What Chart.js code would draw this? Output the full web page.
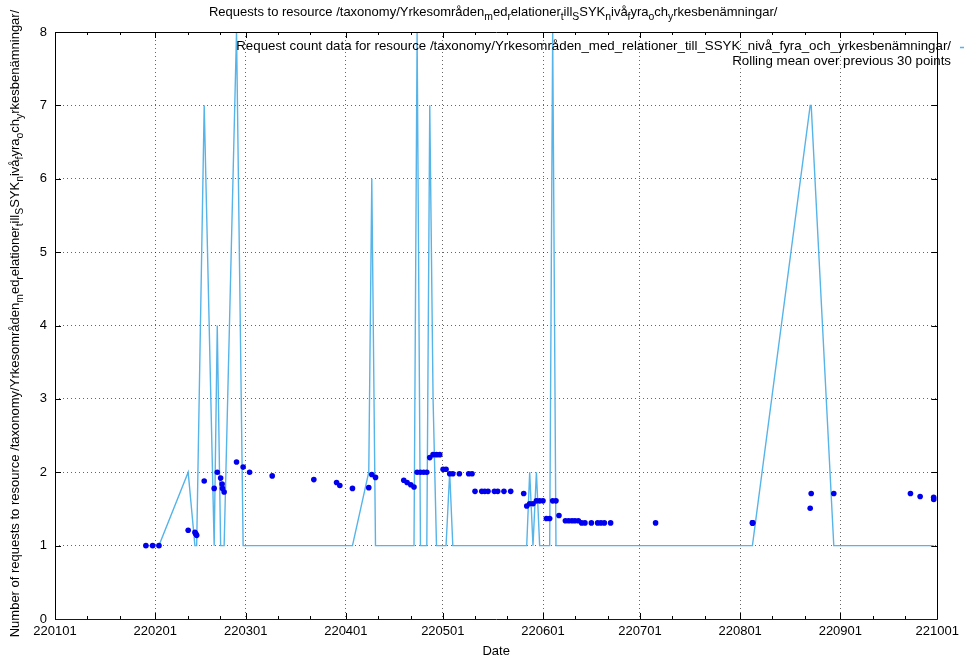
<!DOCTYPE html>
<html><head><meta charset="utf-8">
<script src="https://cdn.jsdelivr.net/npm/chart.js@4.4.0/dist/chart.umd.min.js"></script>
<style>html,body{margin:0;padding:0;background:#fff;}#wrap{width:964px;height:664px;}</style>
</head><body><div id="wrap"><canvas id="c" width="964" height="664"></canvas></div>
<script>
// ---------------- data ----------------
const timestamps = [
 "2022-01-29T03:00","2022-01-31T05:00","2022-02-02T04:00","2022-02-11T05:00","2022-02-13T07:00",
 "2022-02-13T14:00","2022-02-13T20:00","2022-02-16T04:00","2022-02-19T06:00","2022-02-20T05:00",
 "2022-02-21T06:00","2022-02-21T17:00","2022-02-21T20:00","2022-02-22T08:00","2022-02-26T04:00",
 "2022-02-28T05:00","2022-03-02T05:00","2022-03-09T05:00","2022-03-22T02:00","2022-03-29T03:00",
 "2022-03-30T03:00","2022-04-03T01:00","2022-04-08T02:00","2022-04-09T00:30","2022-04-10T04:00",
 "2022-04-18T22:00","2022-04-19T22:30","2022-04-21T02:00","2022-04-22T02:00","2022-04-23T01:00",
 "2022-04-24T02:00","2022-04-25T02:00","2022-04-26T01:00","2022-04-26T23:00","2022-04-27T23:30",
 "2022-04-29T01:00","2022-04-30T01:00","2022-05-01T02:00","2022-05-02T00:00","2022-05-03T03:00",
 "2022-05-04T02:00","2022-05-06T03:00","2022-05-09T00:00","2022-05-10T01:00","2022-05-10T23:00",
 "2022-05-13T01:00","2022-05-13T23:00","2022-05-14T23:30","2022-05-16T23:00","2022-05-17T23:30",
 "2022-05-19T22:00","2022-05-22T00:00","2022-05-26T00:30","2022-05-26T23:00","2022-05-27T21:00",
 "2022-05-28T21:30","2022-05-29T23:00","2022-05-30T23:00","2022-05-31T23:45","2022-06-02T01:00",
 "2022-06-03T01:30","2022-06-03T23:45","2022-06-05T00:15","2022-06-05T22:30","2022-06-07T22:00",
 "2022-06-08T22:30","2022-06-09T23:00","2022-06-10T21:00","2022-06-11T22:30","2022-06-12T23:00",
 "2022-06-13T23:30","2022-06-15T23:00","2022-06-17T21:30","2022-06-18T22:00","2022-06-19T23:30",
 "2022-06-21T22:00","2022-07-05T20:00","2022-08-04T19:00","2022-08-04T20:00","2022-08-04T21:00",
 "2022-08-22T16:00","2022-08-22T23:30","2022-08-29T23:15","2022-09-22T16:30","2022-09-25T16:30",
 "2022-09-29T21:00","2022-09-29T21:30"
];
const requestCounts = [
 1,1,1,2,1, 1,1,7,1,4, 1,1,1,1,8, 1,1,1,1,1,
 1,1,2,6,1, 1,1,1,1,8, 1,1,1,7,3, 1,1,1,1,2,
 1,1,1,1,1, 1,1,1,1,1, 1,1,1,1,2, 1,2,1,1,1,
 1,8,1,1,1, 1,1,1,1,1, 1,1,1,1,1, 1,1,1,1,1,
 7,7,1,1,1, 1,1
];
const rollingMeans = [
 1.00,1.00,1.00,1.21,1.18, 1.16,1.14,1.88,1.78,2.00, 1.92,1.84,1.78,1.73,2.14, 2.07,2.00,1.95,1.90,1.86,
 1.82,1.78,1.79,1.97,1.93, 1.89,1.86,1.83,1.80,2.00, 2.00,2.00,2.00,2.20,2.24, 2.24,2.24,2.04,2.04,1.98,
 1.98,1.98,1.98,1.98,1.74, 1.74,1.74,1.74,1.74,1.74, 1.74,1.74,1.71,1.54,1.57, 1.57,1.61,1.61,1.61,1.37,
 1.37,1.61,1.61,1.41,1.34, 1.34,1.34,1.34,1.34,1.31, 1.31,1.31,1.31,1.31,1.31, 1.31,1.31,1.31,1.31,1.31,
 1.51,1.71,1.71,1.71,1.67, 1.66,1.63
];
const monthTickDates  = ["2022-01-01","2022-02-01","2022-03-01","2022-04-01","2022-05-01","2022-06-01","2022-07-01","2022-08-01","2022-09-01","2022-10-01"];
const monthTickLabels = ["220101","220201","220301","220401","220501","220601","220701","220801","220901","221001"];
const yTickValues = [0,1,2,3,4,5,6,7,8];
const titleText  = "Requests to resource /taxonomy/Yrkesområden_med_relationer_till_SSYK_nivå_fyra_och_yrkesbenämningar/";
const yTitleText = "Number of requests to resource /taxonomy/Yrkesområden_med_relationer_till_SSYK_nivå_fyra_och_yrkesbenämningar/";
const xTitleText = "Date";
const seriesLabels = [
 "Request count data for resource /taxonomy/Yrkesområden_med_relationer_till_SSYK_nivå_fyra_och_yrkesbenämningar/",
 "Rolling mean over previous 30 points"
];

// ---------------- helpers ----------------
const DAY = 86400000;
const ORIGIN = Date.UTC(2022,0,1);
const toDay = s => (Date.parse(s.length === 10 ? s + "T00:00:00Z" : s + ":00Z") - ORIGIN) / DAY;
const tickDays = monthTickDates.map(toDay);
const minorDays = [];
for (let i = 0; i < tickDays.length - 1; i++) { minorDays.push(tickDays[i] + 10, tickDays[i] + 20); }
const FONT = "'Liberation Sans', Arial, Helvetica, sans-serif";
const FS = 13;
const KEY_FS = 13.3;

const countPoints = timestamps.map((t,i) => ({x: toDay(t), y: requestCounts[i]}));
const meanPoints  = timestamps.map((t,i) => ({x: toDay(t), y: rollingMeans[i]}));

function enhancedSegments(str){
  const segs = []; let buf = "";
  for (let i = 0; i < str.length; i++) {
    const ch = str[i];
    if (ch === "_" && i + 1 < str.length) {
      if (buf) { segs.push({t: buf, sub: false}); buf = ""; }
      segs.push({t: str[i+1], sub: true}); i++;
    } else buf += ch;
  }
  if (buf) segs.push({t: buf, sub: false});
  return segs;
}
function drawEnhancedCentered(ctx, str, size){
  const segs = enhancedSegments(str);
  const sub = size * 0.8;
  let total = 0;
  for (const s of segs) { ctx.font = (s.sub ? sub : size) + "px " + FONT; s.w = ctx.measureText(s.t).width; total += s.w; }
  let x = -total / 2;
  const base = size * 0.36;
  ctx.textAlign = "left"; ctx.textBaseline = "alphabetic";
  for (const s of segs) {
    ctx.font = (s.sub ? sub : size) + "px " + FONT;
    ctx.fillText(s.t, x, base + (s.sub ? size * 0.3 : 0));
    x += s.w;
  }
}

const gnuplotFrame = {
  id: "gnuplotFrame",
  afterDatasetsDraw(chart){
    const {ctx, chartArea: a, scales: {x, y}} = chart;
    ctx.save();
    ctx.strokeStyle = "#000"; ctx.lineWidth = 1;
    const seg = (x1,y1,x2,y2) => { ctx.beginPath(); ctx.moveTo(x1,y1); ctx.lineTo(x2,y2); ctx.stroke(); };
    for (const d of tickDays) {
      const px = Math.round(x.getPixelForValue(d)) + 0.5;
      seg(px, a.bottom, px, a.bottom - 6); seg(px, a.top, px, a.top + 6);
    }
    for (const d of minorDays) {
      const px = Math.round(x.getPixelForValue(d)) + 0.5;
      seg(px, a.bottom, px, a.bottom - 3); seg(px, a.top, px, a.top + 3);
    }
    for (const v of yTickValues) {
      const py = Math.round(y.getPixelForValue(v)) + 0.5;
      seg(a.left, py, a.left + 6, py); seg(a.right, py, a.right - 6, py);
    }
    const L = Math.round(a.left) + 0.5, R = Math.round(a.right) + 0.5, T = Math.round(a.top) + 0.5, B = Math.round(a.bottom) + 0.5;
    seg(L, T, R, T); seg(L, T, L, B); seg(R, T, R, B);
    ctx.strokeStyle = "#2a0a3a"; seg(L, B, R, B);
    ctx.restore();
  },
  afterDraw(chart){
    const {ctx, chartArea: a} = chart;
    ctx.save();
    ctx.fillStyle = "#000";
    // title
    ctx.save(); ctx.translate((a.left + a.right) / 2 - 3, 11); drawEnhancedCentered(ctx, titleText, FS); ctx.restore();
    // y title
    ctx.save(); ctx.translate(14, (a.top + a.bottom) / 2 - 2); ctx.rotate(-Math.PI / 2); drawEnhancedCentered(ctx, yTitleText, FS); ctx.restore();
    // x title
    ctx.font = FS + "px " + FONT; ctx.textAlign = "center"; ctx.textBaseline = "middle";
    ctx.fillText(xTitleText, (a.left + a.right) / 2, 651);
    // key
    const ds = chart.data.datasets;
    ctx.font = KEY_FS + "px " + FONT;
    ctx.textAlign = "right";
    ctx.fillText(ds[0].label, 951, 46.5);
    ctx.fillText(ds[1].label, 951, 61);
    ctx.strokeStyle = ds[0].borderColor; ctx.lineWidth = 1.5;
    ctx.beginPath(); ctx.moveTo(960, 47.5); ctx.lineTo(1004, 47.5); ctx.stroke();
    ctx.fillStyle = ds[1].backgroundColor;
    ctx.beginPath(); ctx.arc(982, 61, 2.8, 0, Math.PI * 2); ctx.fill();
    ctx.restore();
  }
};

const gridColor = "rgba(0,0,0,0.6)";
new Chart(document.getElementById("c"), {
  type: "scatter",
  data: {
    datasets: [
      { label: seriesLabels[0], data: countPoints, showLine: true, borderColor: "#56B4E9", backgroundColor: "#56B4E9",
        borderWidth: 1.4, pointRadius: 0, pointHoverRadius: 0, order: 2, tension: 0 },
      { label: seriesLabels[1], data: meanPoints, showLine: false, borderColor: "#0000ee", backgroundColor: "#0000ee",
        pointRadius: 2.8, pointBorderWidth: 0, pointHoverRadius: 2.8, order: 1 }
    ]
  },
  options: {
    responsive: false, animation: false, devicePixelRatio: 1,
    layout: { padding: { left: 0, right: 26, top: 32, bottom: 0 } },
    plugins: { legend: { display: false }, title: { display: false }, tooltip: { enabled: false } },
    events: [],
    scales: {
      x: {
        type: "linear", min: tickDays[0], max: tickDays[tickDays.length - 1],
        afterBuildTicks: s => { s.ticks = tickDays.map(v => ({ value: v })); },
        afterFit: s => { s.height = 45; },
        ticks: { autoSkip: false, maxRotation: 0, minRotation: 0, padding: 5, color: "#000",
                 font: { family: FONT, size: FS },
                 callback: v => { const i = tickDays.indexOf(v); return i >= 0 ? monthTickLabels[i] : ""; } },
        grid: { drawTicks: false, lineWidth: 1,
                color: c => (c.tick && (c.index === 0 || c.index === tickDays.length - 1)) ? "rgba(0,0,0,0)" : gridColor },
        border: { display: false, dash: [1, 3] }
      },
      y: {
        type: "linear", min: 0, max: 8,
        afterBuildTicks: s => { s.ticks = yTickValues.map(v => ({ value: v })); },
        afterFit: s => { s.width = 55; },
        ticks: { autoSkip: false, padding: 8, color: "#000", font: { family: FONT, size: FS } },
        grid: { drawTicks: false, lineWidth: 1,
                color: c => (c.tick && (c.tick.value === 0 || c.tick.value === 8)) ? "rgba(0,0,0,0)" : gridColor },
        border: { display: false, dash: [1, 3] }
      }
    }
  },
  plugins: [gnuplotFrame]
});
</script></body></html>
